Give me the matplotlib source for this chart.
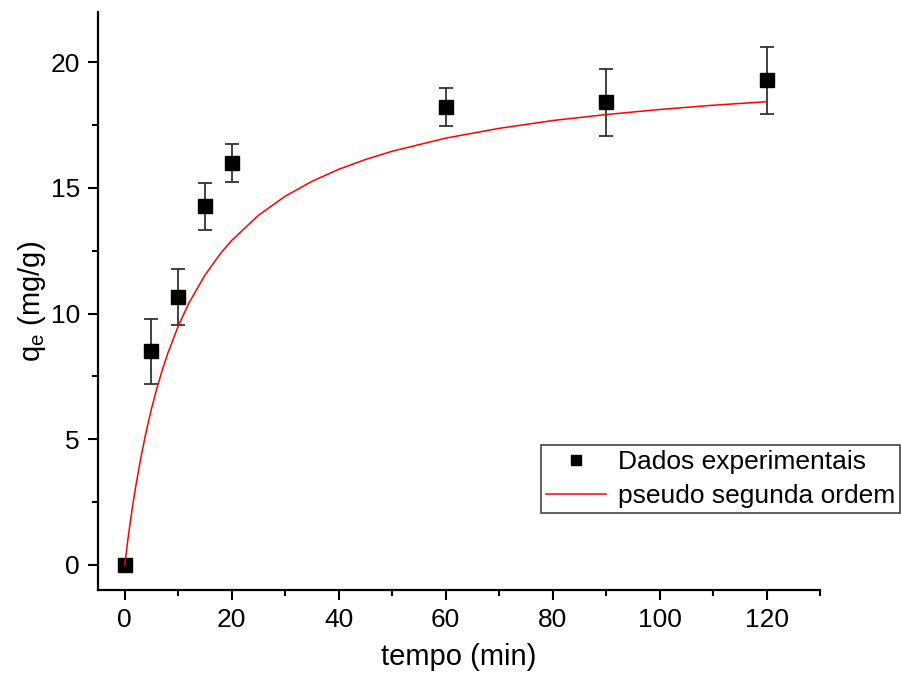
import numpy as np
import matplotlib
matplotlib.use("Agg")
import matplotlib.pyplot as plt
from matplotlib.ticker import MultipleLocator

plt.rcParams["font.family"] = ["Liberation Sans", "DejaVu Sans"]
plt.rcParams["mathtext.fontset"] = "custom"
plt.rcParams["mathtext.rm"] = "Liberation Sans"
plt.rcParams["mathtext.default"] = "regular"

# experimental points (tempo in min, qe in mg/g, error)
t_exp = [0, 5, 10, 15, 20, 60, 90, 120]
q_exp = [0.0, 8.5, 10.66, 14.27, 15.98, 18.21, 18.41, 19.28]
q_err = [0.0, 1.3, 1.13, 0.93, 0.76, 0.76, 1.33, 1.33]

# pseudo second order curve
t_fit = [0, 0.5, 1, 1.5, 2, 3, 4, 5, 6, 7, 8, 10, 12, 15, 18, 20, 25, 30, 35,
         40, 45, 50, 60, 70, 80, 90, 100, 110, 120]
q_fit = [0.0, 0.86, 1.65, 2.38, 3.05, 4.25, 5.30, 6.21, 7.02, 7.74, 8.39,
         9.50, 10.42, 11.53, 12.42, 12.91, 13.91, 14.67, 15.26, 15.74, 16.13,
         16.46, 16.98, 17.37, 17.68, 17.92, 18.12, 18.29, 18.43]

fig = plt.figure(figsize=(9.01, 6.81), dpi=100)
ax = fig.add_axes([98 / 901, 1 - 590 / 681, (820 - 98) / 901, (590 - 12) / 681])

ax.errorbar(t_exp, q_exp, yerr=q_err, fmt="none", ecolor="#333333",
            elinewidth=1.3, capsize=5, capthick=1.3, zorder=2)
ax.plot(t_exp, q_exp, "s", color="black", markersize=10, zorder=3,
        label="Dados experimentais")
ax.plot(t_fit, q_fit, color="red", lw=1.1, zorder=4, label="pseudo segunda ordem")

ax.set_xlim(-5, 130)
ax.set_ylim(-1, 22)
ax.xaxis.set_major_locator(MultipleLocator(20))
ax.xaxis.set_minor_locator(MultipleLocator(10))
ax.yaxis.set_major_locator(MultipleLocator(5))
ax.yaxis.set_minor_locator(MultipleLocator(2.5))
for s in ["top", "right"]:
    ax.spines[s].set_visible(False)
for s in ["left", "bottom"]:
    ax.spines[s].set_linewidth(1.6)
ax.tick_params(which="major", direction="out", length=7, width=1.5,
               labelsize=19, pad=6)
ax.tick_params(which="minor", direction="out", length=4, width=1.5)

ax.set_xlabel("tempo (min)", fontsize=21, labelpad=8)
ax.set_ylabel("q$_{e}$ (mg/g)", fontsize=21, labelpad=2)

leg = ax.legend(loc="upper left", bbox_to_anchor=(541 / 901, 1 - 445 / 681),
                bbox_transform=fig.transFigure, fontsize=19, frameon=True,
                fancybox=False, edgecolor="#444444", framealpha=1,
                borderpad=0.18, handlelength=2.3, handletextpad=0.45,
                labelspacing=0.4, borderaxespad=0, markerscale=0.75)
leg.get_frame().set_linewidth(1.2)

fig.savefig("out.png", dpi=100)
